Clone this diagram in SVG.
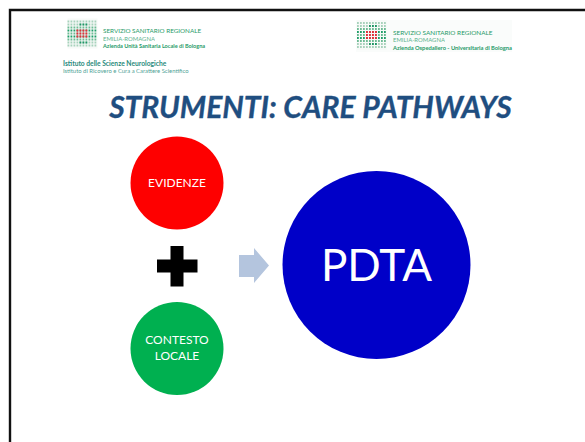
<svg xmlns="http://www.w3.org/2000/svg" width="585" height="442" viewBox="0 0 585 442">
<defs>
<style>
text{font-family:Lato,"Open Sans","Liberation Sans",sans-serif}
.w{fill:#fff;text-anchor:middle}
.g{fill:#1f9a68}
.b{font-weight:700}
.dots{stroke-dasharray:1.8 1.2;stroke-width:2;fill:none}
</style>
<g id="mark">
<rect x="0" y="0" width="30" height="30" fill="#f7faf8"/>
<g class="dots" stroke="#a8d2bc">
<path d="M0 3H29M0 6H29M0 24H29M0 27H29"/>
</g>
<g class="dots">
<path d="M0 12H29M0 18H29" stroke="#1f9e68"/>
<path d="M0 9H29M0 15H29M0 21H29" stroke="#6dbb94"/>
<path d="M12 6H21M12 24H21" stroke="#1f9565"/>
<path d="M9 12H21M9 15H21M9 18H21" stroke="#ee2a38"/>
</g>
</g>
</defs>
<rect width="585" height="442" fill="#fff"/>
<path d="M10 442V10H585" fill="none" stroke="#111" stroke-width="2.400"/>
<g id="logo-left">
<use href="#mark" x="67.500" y="18.500"/>
<text class="g" x="103" y="33.300" font-size="6.300">SERVIZIO SANITARIO REGIONALE</text>
<text class="g" x="103" y="41" font-size="5.900" opacity=".75">EMILIA-ROMAGNA</text>
<text class="g b" x="103" y="48" font-size="5.550">Azienda Unità Sanitaria Locale di Bologna</text>
<text class="b" x="63" y="65.800" font-size="6.700" fill="#2a8a7c">Istituto delle Scienze Neurologiche</text>
<text x="63" y="73" font-size="5.900" fill="#4fa396">Istituto di Ricovero e Cura a Carattere Scientifico</text>
</g>
<g id="logo-right">
<rect x="356" y="20" width="156" height="32" fill="#fafcfb"/>
<use href="#mark" x="357" y="20"/>
<text class="g" x="393" y="34.500" font-size="6.400">SERVIZIO SANITARIO REGIONALE</text>
<text class="g" x="393" y="42" font-size="5.900" opacity=".75">EMILIA-ROMAGNA</text>
<text class="g b" x="393" y="49.500" font-size="5.750">Azienda Ospedaliero - Universitaria di Bologna</text>
</g>
<text id="title" x="310.500" y="118" text-anchor="middle" font-size="30" font-weight="700" font-style="italic" fill="#1f4e80" stroke="#1f4e80" stroke-width=".35">STRUMENTI: CARE PATHWAYS</text>
<g id="evidenze">
<circle cx="177" cy="183" r="46.500" fill="#fe0000"/>
<text class="w" x="177" y="187" font-size="12">EVIDENZE</text>
</g>
<g id="plus">
<path d="M170.500 246H183.500V259.500H197.500V272.500H183.500V286.500H170.500V272.500H157V259.500H170.500Z" fill="#000"/>
</g>
<g id="contesto">
<circle cx="177" cy="348.500" r="46.500" fill="#00b050"/>
<text class="w" x="177" y="344" font-size="12">CONTESTO</text>
<text class="w" x="177" y="360" font-size="12">LOCALE</text>
</g>
<g id="connectors">
<path d="M239 255H254V248L269 265.500L254 283V277H239Z" fill="#b4c5de"/>
</g>
<g id="pdta">
<circle cx="376.500" cy="265" r="94" fill="#0000c8"/>
<text class="w" x="376.500" y="281" font-size="44">PDTA</text>
</g>
</svg>
